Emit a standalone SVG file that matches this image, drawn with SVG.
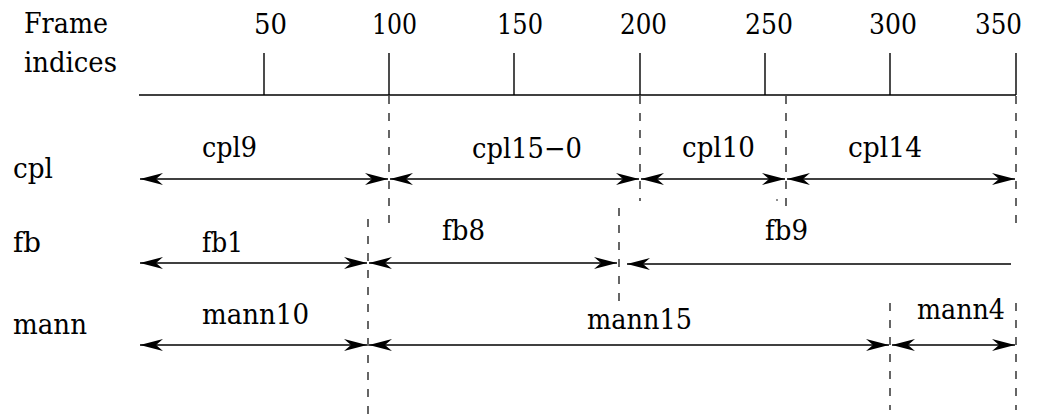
<svg xmlns="http://www.w3.org/2000/svg" width="1041" height="419" viewBox="0 0 1041 419">
  <style>
    .t { font-family: "DejaVu Serif", "Liberation Serif", serif; font-size: 27.5px; fill: #000; }
    .axis { stroke: #000; stroke-width: 1.4; fill: none; }
    .span { stroke: #000; stroke-width: 1.6; fill: none; }
    .bound { stroke: #000; stroke-width: 1.2; stroke-dasharray: 8 9; fill: none; }
  </style>
  <defs>
    <marker id="head" viewBox="-24 -7 25 14" refX="0" refY="0" markerWidth="25" markerHeight="14" markerUnits="userSpaceOnUse" orient="auto-start-reverse">
      <path d="M0,0 L-23,-6 L-16,0 L-23,6 Z" fill="#000"/>
    </marker>
  </defs>

  <rect width="1041" height="419" fill="#fff"/>

  <!-- frame index scale -->
  <g id="scale">
    <text class="t" x="24" y="33" textLength="84" lengthAdjust="spacingAndGlyphs">Frame</text>
    <text class="t" x="24" y="72" textLength="93" lengthAdjust="spacingAndGlyphs">indices</text>
    <line class="axis" x1="139" y1="95" x2="1016" y2="95"/>
    <path class="axis" d="M264,53V95 M389,53V95 M514,53V95 M640,53V95 M765,53V95 M890,53V95 M1016,53V95"/>
    <text class="t" x="254" y="34" textLength="33" lengthAdjust="spacingAndGlyphs">50</text>
    <text class="t" x="372" y="34" textLength="45" lengthAdjust="spacingAndGlyphs">100</text>
    <text class="t" x="497" y="34" textLength="46" lengthAdjust="spacingAndGlyphs">150</text>
    <text class="t" x="620" y="34" textLength="47" lengthAdjust="spacingAndGlyphs">200</text>
    <text class="t" x="745" y="34" textLength="48" lengthAdjust="spacingAndGlyphs">250</text>
    <text class="t" x="869" y="34" textLength="48" lengthAdjust="spacingAndGlyphs">300</text>
    <text class="t" x="975" y="34" textLength="47" lengthAdjust="spacingAndGlyphs">350</text>
  </g>

  <!-- row titles -->
  <g id="rows">
    <text class="t" x="13" y="178" textLength="40" lengthAdjust="spacingAndGlyphs">cpl</text>
    <text class="t" x="13" y="252" textLength="28" lengthAdjust="spacingAndGlyphs">fb</text>
    <text class="t" x="13" y="334" textLength="74" lengthAdjust="spacingAndGlyphs">mann</text>
  </g>

  <!-- segment labels -->
  <g id="cpl9"><text class="t" x="202" y="157" textLength="55" lengthAdjust="spacingAndGlyphs">cpl9</text></g>
  <g id="cpl15-0"><text class="t" x="472" y="158" textLength="110" lengthAdjust="spacingAndGlyphs">cpl15−0</text></g>
  <g id="cpl10"><text class="t" x="682" y="157" textLength="73" lengthAdjust="spacingAndGlyphs">cpl10</text></g>
  <g id="cpl14"><text class="t" x="848" y="157" textLength="74" lengthAdjust="spacingAndGlyphs">cpl14</text></g>
  <g id="fb1"><text class="t" x="202" y="252" textLength="41" lengthAdjust="spacingAndGlyphs">fb1</text></g>
  <g id="fb8"><text class="t" x="442" y="240" textLength="43" lengthAdjust="spacingAndGlyphs">fb8</text></g>
  <g id="fb9"><text class="t" x="765" y="240" textLength="43" lengthAdjust="spacingAndGlyphs">fb9</text></g>
  <g id="mann10"><text class="t" x="202" y="324" textLength="107" lengthAdjust="spacingAndGlyphs">mann10</text></g>
  <g id="mann15"><text class="t" x="587" y="329" textLength="105" lengthAdjust="spacingAndGlyphs">mann15</text></g>
  <g id="mann4"><text class="t" x="917" y="319" textLength="88" lengthAdjust="spacingAndGlyphs">mann4</text></g>

  <!-- spans and boundaries -->
  <g id="connectors">
    <line class="bound" x1="389" y1="96" x2="389" y2="231"/>
    <line class="bound" x1="640" y1="96" x2="640" y2="201"/>
    <line class="bound" x1="786" y1="96" x2="786" y2="209"/>
    <line class="bound" x1="1016" y1="96" x2="1016" y2="231"/>
    <line class="bound" x1="368" y1="219" x2="368" y2="419"/>
    <line class="bound" x1="619" y1="208" x2="619" y2="306"/>
    <line class="bound" x1="890" y1="303" x2="890" y2="410"/>
    <line class="bound" x1="1016" y1="303" x2="1016" y2="410"/>
    <circle cx="777" cy="200" r="0.8" fill="#000"/>

    <line class="span" x1="140" y1="179" x2="388" y2="179" marker-start="url(#head)" marker-end="url(#head)"/>
    <line class="span" x1="390" y1="179" x2="639" y2="179" marker-start="url(#head)" marker-end="url(#head)"/>
    <line class="span" x1="641" y1="179" x2="785" y2="179" marker-start="url(#head)" marker-end="url(#head)"/>
    <line class="span" x1="787" y1="179" x2="1015" y2="179" marker-start="url(#head)" marker-end="url(#head)"/>

    <line class="span" x1="140" y1="263" x2="367" y2="263" marker-start="url(#head)" marker-end="url(#head)"/>
    <line class="span" x1="369" y1="263" x2="617" y2="263" marker-start="url(#head)" marker-end="url(#head)"/>
    <line class="span" x1="627" y1="264" x2="1011" y2="264" marker-start="url(#head)"/>

    <line class="span" x1="140" y1="345" x2="367" y2="345" marker-start="url(#head)" marker-end="url(#head)"/>
    <line class="span" x1="369" y1="345" x2="889" y2="345" marker-start="url(#head)" marker-end="url(#head)"/>
    <line class="span" x1="892" y1="345" x2="1015" y2="345" marker-start="url(#head)" marker-end="url(#head)"/>
  </g>
</svg>
